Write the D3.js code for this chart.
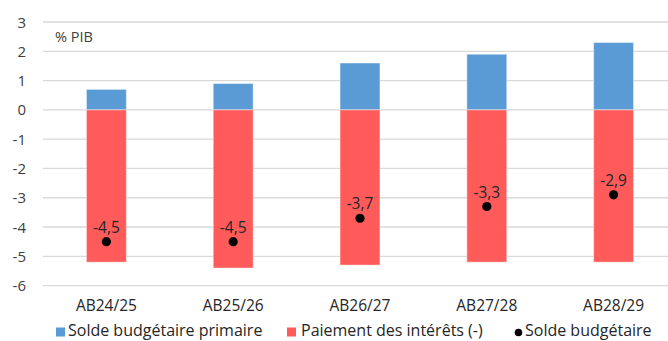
<!DOCTYPE html>
<html>
<head>
<meta charset="utf-8">
<script src="https://cdn.jsdelivr.net/npm/d3@7"></script>
<style>
  html, body { margin: 0; padding: 0; background: #fff; overflow: hidden; }
  svg { display: block; }
  text { font-family: "Open Sans", "Noto Sans", sans-serif; }
</style>
</head>
<body>
<svg id="chart" width="668" height="341"></svg>
<script>
// Budget balances, % of GDP
const categories = ["AB24/25", "AB25/26", "AB26/27", "AB27/28", "AB28/29"];
const primaryBalance = [0.7, 0.9, 1.6, 1.9, 2.3];
const interestPayments = [-5.2, -5.4, -5.3, -5.2, -5.2];
const budgetBalance = [-4.5, -4.5, -3.7, -3.3, -2.9];
const yTicks = [3, 2, 1, 0, -1, -2, -3, -4, -5, -6];
const legendLabels = ["Solde budgétaire primaire", "Paiement des intérêts (-)", "Solde budgétaire"];

const colors = { primary: "#5B9BD5", interest: "#FF5B5B", balance: "#000000" };

const svg = d3.select("#chart");
const W = 668, H = 341;
const plot = { left: 43, right: 677, top: 22, bottom: 285.6 };

const x = d3.scaleBand().domain(categories).range([plot.left, plot.right]).paddingInner(0.685).paddingOuter(0.3425);
const y = d3.scaleLinear().domain([-6, 3]).range([plot.bottom, plot.top]);

// gridlines
svg.append("g").selectAll("line").data(yTicks).join("line")
  .attr("x1", plot.left).attr("x2", W)
  .attr("y1", d => y(d)).attr("y2", d => y(d))
  .attr("stroke", "#d9d9d9").attr("stroke-width", 1.3);

// y tick labels
svg.append("g").selectAll("text").data(yTicks).join("text")
  .attr("x", 26).attr("y", d => y(d) + 5.5)
  .attr("text-anchor", "end").attr("font-size", 15).attr("fill", "#404040")
  .text(d => d);

// unit label
svg.append("text").attr("x", 55).attr("y", 42).attr("font-size", 14.5).attr("fill", "#404040").text("% PIB");

// bars
const barG = svg.append("g");
barG.selectAll("rect.primary").data(categories).join("rect")
  .attr("class", "primary")
  .attr("x", d => x(d)).attr("width", x.bandwidth())
  .attr("y", (d, i) => y(primaryBalance[i]))
  .attr("height", (d, i) => y(0) - y(primaryBalance[i]))
  .attr("fill", colors.primary).attr("stroke", "#ffffff").attr("stroke-opacity", 0.45).attr("stroke-width", 1);
barG.selectAll("rect.interest").data(categories).join("rect")
  .attr("class", "interest")
  .attr("x", d => x(d)).attr("width", x.bandwidth())
  .attr("y", y(0))
  .attr("height", (d, i) => y(interestPayments[i]) - y(0))
  .attr("fill", colors.interest).attr("stroke", "#ffffff").attr("stroke-opacity", 0.45).attr("stroke-width", 1);

// budget balance dots and value labels
const cx = d => x(d) + x.bandwidth() / 2;
svg.append("g").selectAll("circle").data(categories).join("circle")
  .attr("cx", cx).attr("cy", (d, i) => y(budgetBalance[i]))
  .attr("r", 4.6).attr("fill", colors.balance);
svg.append("g").selectAll("text").data(categories).join("text")
  .attr("x", cx).attr("y", (d, i) => y(budgetBalance[i]) - 9)
  .attr("text-anchor", "middle").attr("font-size", 15.5).attr("fill", "#262626")
  .text((d, i) => String(budgetBalance[i]).replace(".", ","));

// x category labels
svg.append("g").selectAll("text").data(categories).join("text")
  .attr("x", cx).attr("y", 311)
  .attr("text-anchor", "middle").attr("font-size", 15.5).attr("fill", "#262626")
  .text(d => d);

// legend
const legend = svg.append("g").attr("font-size", 16).attr("fill", "#262626");
const legendY = 336;
legend.append("rect").attr("x", 56).attr("y", 327.5).attr("width", 9).attr("height", 9).attr("fill", colors.primary);
legend.append("text").attr("x", 68).attr("y", legendY).text(legendLabels[0]);
legend.append("rect").attr("x", 287).attr("y", 327.5).attr("width", 9).attr("height", 9).attr("fill", colors.interest);
legend.append("text").attr("x", 301).attr("y", legendY).text(legendLabels[1]);
legend.append("circle").attr("cx", 518.5).attr("cy", 332.5).attr("r", 3.8).attr("fill", colors.balance);
legend.append("text").attr("x", 525).attr("y", legendY).text(legendLabels[2]);
</script>
</body>
</html>
